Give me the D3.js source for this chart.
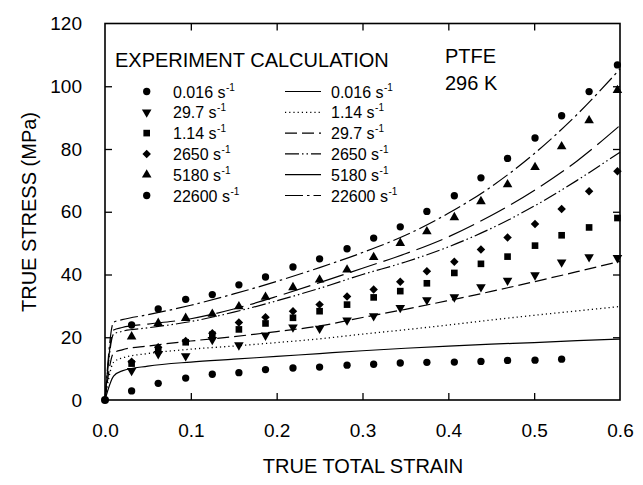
<!DOCTYPE html>
<html>
<head>
<meta charset="utf-8">
<script src="https://cdn.jsdelivr.net/npm/d3@7"></script>
<style>
  html, body { margin: 0; padding: 0; background: #fff; }
  svg { display: block; font-family: "Liberation Sans", Arial, Helvetica, sans-serif; }
</style>
</head>
<body>
<svg id="chart" width="643" height="485"></svg>
<script>
// ---------------- data ----------------
const strain = [0.031,0.062,0.094,0.125,0.156,0.187,0.219,0.250,0.282,0.313,0.344,0.375,0.407,0.438,0.469,0.501,0.532,0.564,0.597];

// experiment (markers)
const exp0016  = [2.9,5.3,7.0,8.2,8.7,9.7,10.2,10.5,11.1,11.4,11.8,12.0,12.1,12.3,12.6,12.7,13.0];
const exp297   = [9.3,14.7,14.0,19.2,17.5,20.6,23.2,22.8,25.4,26.8,29.4,31.9,32.8,36.0,38.1,39.8,43.9,45.6,45.3];
const exp114   = [11.6,15.8,18.4,20.8,22.5,24.4,26.2,28.3,30.4,32.7,34.7,37.2,40.5,43.4,45.7,49.2,52.5,55.0,58.0];
const exp2650  = [12.2,16.8,18.8,21.3,24.7,26.4,28.3,30.4,33.0,35.2,37.7,41.0,44.1,48.0,51.8,56.1,60.9,66.5,72.9];
const exp5180  = [20.2,24.5,26.1,27.4,29.8,32.8,35.9,38.3,41.5,45.5,50.0,53.7,58.2,63.3,68.7,74.2,80.8,89.1,98.7];
const exp22600 = [23.9,29.0,32.1,33.6,36.7,39.2,42.4,45.0,48.2,51.6,55.2,60.1,65.1,70.8,77.0,83.5,90.6,98.3,106.8];

// calculation (curves)
const calcStrain = [0,0.01,0.02,0.05,0.10,0.15,0.20,0.25,0.30,0.35,0.40,0.45,0.50,0.55,0.60];
const calc0016  = [0,7.6,9.3,10.8,12.1,13.0,13.9,14.8,15.7,16.5,17.2,17.8,18.3,18.9,19.4];
const calc114   = [0,12.0,13.4,14.8,16.2,17.2,18.3,19.5,21.0,22.4,23.9,25.5,27.0,28.4,29.8];
const calc297   = [0,15.0,16.0,17.2,18.8,20.2,21.8,23.6,26.3,28.9,31.7,34.6,37.7,40.9,44.2];
const calc2650  = [0,21.0,21.9,23.0,25.0,28.0,31.6,35.6,40.0,44.0,48.8,54.7,61.8,70.0,79.0];
const calc5180  = [0,22.3,23.1,24.2,25.9,29.0,33.0,37.4,42.0,46.6,52.0,58.8,66.8,76.2,87.5];
const calc22600 = [0,24.8,25.6,27.2,30.2,33.8,37.8,42.2,47.0,52.5,59.5,68.0,78.5,91.0,105.5];

const xTicks = [0,0.1,0.2,0.3,0.4,0.5,0.6];
const yTicks = [0,20,40,60,80,100,120];

const expLabels  = ["0.016","29.7","1.14","2650","5180","22600"];
const calcLabels = ["0.016","1.14","29.7","2650","5180","22600"];

// ---------------- layout ----------------
const svg = d3.select("#chart");
const x = d3.scaleLinear().domain([0,0.6]).range([105,620]);
const y = d3.scaleLinear().domain([0,120]).range([400,23.5]);
const fontBig = 20, fontTick = 19, fontLeg = 16;

// calculation curves
const dashes = {
  "0.016": null,
  "1.14": "1.2,3",
  "29.7": "12,5",
  "2650": "14,3,1.5,3,1.5,3",
  "5180": "28,7",
  "22600": "18,4,2.5,4"
};
const calcSeries = [
  {name:"0.016", v:calc0016},
  {name:"1.14", v:calc114},
  {name:"29.7", v:calc297},
  {name:"2650", v:calc2650},
  {name:"5180", v:calc5180},
  {name:"22600", v:calc22600}
];
const line = d3.line().x(d => x(d[0])).y(d => y(d[1])).curve(d3.curveMonotoneX);
const gLines = svg.append("g");
calcSeries.forEach(s => {
  gLines.append("path")
    .datum(calcStrain.map((e,i) => [e, s.v[i]]))
    .attr("d", line)
    .attr("fill","none")
    .attr("stroke","#000")
    .attr("stroke-width", s.name === "1.14" ? 1.3 : 1.2)
    .attr("stroke-dasharray", dashes[s.name]);
});

// markers
const sym = {
  circle: d3.symbol().type(d3.symbolCircle).size(42),
  triDown: d3.symbol().type(d3.symbolTriangle).size(40),
  tri: d3.symbol().type(d3.symbolTriangle).size(40),
  square: d3.symbol().type(d3.symbolSquare).size(44),
  diamond: d3.symbol().type(d3.symbolSquare).size(36)
};
const expSeries = [
  {name:"0.016", v:exp0016, s:"circle"},
  {name:"29.7", v:exp297, s:"triDown"},
  {name:"1.14", v:exp114, s:"square"},
  {name:"2650", v:exp2650, s:"diamond"},
  {name:"5180", v:exp5180, s:"tri"},
  {name:"22600", v:exp22600, s:"circle"}
];
function drawMarker(g, type, cx, cy) {
  const rot = type === "triDown" ? 180 : (type === "diamond" ? 45 : 0);
  g.append("path")
    .attr("d", sym[type]())
    .attr("transform", `translate(${cx},${cy}) rotate(${rot})`)
    .attr("fill","#000");
}
const gPts = svg.append("g");
expSeries.forEach(s => {
  s.v.forEach((val,i) => drawMarker(gPts, s.s, x(strain[i]), y(val)));
});

// axes
const axB = d3.axisBottom(x).tickValues(xTicks).tickFormat(d3.format(".1f")).tickSizeInner(-7).tickSizeOuter(0).tickPadding(24);
const axL = d3.axisLeft(y).tickValues(yTicks).tickFormat(d3.format("d")).tickSizeInner(-7).tickSizeOuter(0).tickPadding(23);
const axT = d3.axisTop(x).tickValues(xTicks).tickFormat("").tickSizeInner(-7).tickSizeOuter(0);
const axR = d3.axisRight(y).tickValues(yTicks).tickFormat("").tickSizeInner(-7).tickSizeOuter(0);

function styleAxis(g) {
  g.select(".domain").remove();
  g.selectAll(".tick line").attr("stroke","#000").attr("stroke-width",1.3);
  g.selectAll(".tick text").attr("fill","#000").style("font-size", fontTick + "px")
    .style("font-family", '"Liberation Sans", Arial, sans-serif');
}
svg.append("g").attr("transform","translate(0,400)").call(axB).call(styleAxis);
svg.append("g").attr("transform","translate(105,0)").call(axL).call(styleAxis);
svg.append("g").attr("transform","translate(0,23.5)").call(axT).call(styleAxis);
svg.append("g").attr("transform","translate(620,0)").call(axR).call(styleAxis);
svg.selectAll(".tick").filter(function(d){ return d===0 || d===0.6 || d===120; }).select("line").remove();

// frame
svg.append("rect").attr("x",105).attr("y",23.5).attr("width",515).attr("height",376.5)
  .attr("fill","none").attr("stroke","#000").attr("stroke-width",1.6);
// origin point (shared start of all tests)
svg.append("circle").attr("cx", x(0)).attr("cy", y(0)).attr("r", 4).attr("fill","#000");

// axis titles
svg.append("text").attr("x", 363).attr("y", 473).attr("text-anchor","middle")
  .style("font-size", fontBig + "px").text("TRUE TOTAL STRAIN");
svg.append("text").attr("transform","translate(36,212) rotate(-90)").attr("text-anchor","middle")
  .style("font-size", fontBig + "px").text("TRUE STRESS (MPa)");

// annotation
svg.append("text").attr("x",445).attr("y",62.5).style("font-size", fontBig+"px").text("PTFE");
svg.append("text").attr("x",445).attr("y",89.5).style("font-size", fontBig+"px").text("296 K");

// legend
const gLeg = svg.append("g");
gLeg.append("text").attr("x",115).attr("y",66.5).style("font-size", fontBig+"px").text("EXPERIMENT CALCULATION");
const rowY = i => 91.5 + i * 20.8;
function legText(xp, yp, label) {
  const t = gLeg.append("text").attr("x", xp).attr("y", yp + 6).style("font-size", fontLeg + "px");
  t.append("tspan").text(label + " s");
  t.append("tspan").attr("dx",0.5).attr("dy",-7).style("font-size","10px").text("-1");
}
expSeries.forEach((s,i) => {
  drawMarker(gLeg, s.s, 146.7, rowY(i));
  legText(173, rowY(i), expLabels[i]);
});
calcSeries.forEach((s,i) => {
  gLeg.append("line").attr("x1",285).attr("x2",321).attr("y1",rowY(i)).attr("y2",rowY(i))
    .attr("stroke","#000").attr("stroke-width",1.2)
    .attr("stroke-dasharray", s.name === "5180" ? null : dashes[s.name]);
  legText(331, rowY(i), calcLabels[i]);
});
</script>
</body>
</html>
